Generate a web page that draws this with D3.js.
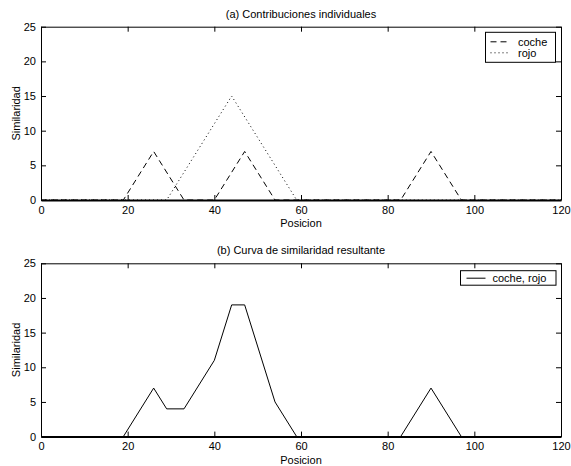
<!DOCTYPE html>
<html>
<head>
<meta charset="utf-8">
<script src="https://cdn.jsdelivr.net/npm/d3@7"></script>
<style>
  body { margin: 0; background: #fff; }
  svg text { font-family: "Liberation Sans", Arial, sans-serif; fill: #000; }
</style>
</head>
<body>
<div id="chart"></div>
<script>
// Data
const xTicks = [0, 20, 40, 60, 80, 100, 120];
const yTicks = [0, 5, 10, 15, 20, 25];

const posCoche = [0, 19, 26, 33, 40, 47, 54, 83, 90, 97, 120];
const simCoche = [0, 0, 7, 0, 0, 7, 0, 0, 7, 0, 0];

const posRojo = [0, 29, 44, 59, 120];
const simRojo = [0, 0, 15, 0, 0];

const posTotal = [0, 19, 26, 29, 33, 40, 44, 47, 54, 59, 83, 90, 97, 120];
const simTotal = [0, 0, 7, 4, 4, 11, 19, 19, 5, 0, 0, 7, 0, 0];

const W = 571, H = 466;
const left = 41, right = 561;
const panelH = 173.3;

const svg = d3.select("#chart")
  .append("svg")
    .attr("width", W)
    .attr("height", H);

const x = d3.scaleLinear().domain([0, 120]).range([0, right - left]);
const y = d3.scaleLinear().domain([0, 25]).range([panelH, 0]);

const line = d3.line()
  .x(d => x(d[0]))
  .y(d => y(d[1]));

function zip(a, b) { return a.map((v, i) => [v, b[i]]); }

// Draws one panel (axes box, ticks, labels, title)
function panel(top, title) {
  const g = svg.append("g").attr("transform", `translate(${left},${top})`);

  const bottomAxis = g.append("g")
    .attr("transform", `translate(0,${panelH})`)
    .call(d3.axisBottom(x).tickValues(xTicks).tickSize(-5).tickSizeOuter(0).tickPadding(6));
  g.append("g")
    .call(d3.axisTop(x).tickValues(xTicks).tickSize(-5).tickSizeOuter(0).tickFormat(""));
  g.append("g")
    .call(d3.axisLeft(y).tickValues(yTicks).tickSize(-5).tickSizeOuter(0).tickPadding(5));
  g.append("g")
    .attr("transform", `translate(${x(120)},0)`)
    .call(d3.axisRight(y).tickValues(yTicks).tickSize(-5).tickSizeOuter(0).tickFormat(""));

  g.selectAll(".domain, .tick line").attr("stroke", "#000").attr("stroke-width", 1);
  // the zero line of the data sits on the x axis, which makes it look heavier
  bottomAxis.select(".domain").attr("stroke-width", 2);
  g.selectAll(".tick text")
    .style("font-size", "11px")
    .style("font-family", "Liberation Sans, Arial, sans-serif");

  g.append("text")
    .attr("x", x(60))
    .attr("y", -9)
    .attr("text-anchor", "middle")
    .style("font-size", "11px")
    .text(title);

  g.append("text")
    .attr("x", x(60))
    .attr("y", panelH + 27.5)
    .attr("text-anchor", "middle")
    .style("font-size", "11px")
    .text("Posicion");

  g.append("text")
    .attr("transform", `translate(-21,${y(12.5)}) rotate(-90)`)
    .attr("text-anchor", "middle")
    .style("font-size", "11px")
    .text("Similaridad");

  return g;
}

// (a) individual contributions
const ga = panel(26.7, "(a) Contribuciones individuales");

ga.append("path")
  .datum(zip(posCoche, simCoche))
  .attr("fill", "none")
  .attr("stroke", "#000")
  .attr("stroke-width", 1)
  .attr("stroke-dasharray", "6,4")
  .attr("d", line);

ga.append("path")
  .datum(zip(posRojo, simRojo))
  .attr("fill", "none")
  .attr("stroke", "#000")
  .attr("stroke-width", 1)
  .attr("stroke-dasharray", "1,3")
  .attr("d", line);

// legend (a)
const la = ga.append("g").attr("transform", `translate(${485.5 - left},${32.3 - 26.7})`);
la.append("rect")
  .attr("width", 70).attr("height", 30)
  .attr("fill", "#fff").attr("stroke", "#000").attr("stroke-width", 1);
la.append("line")
  .attr("x1", 5).attr("x2", 25).attr("y1", 9.5).attr("y2", 9.5)
  .attr("stroke", "#000").attr("stroke-dasharray", "6,4");
la.append("line")
  .attr("x1", 5).attr("x2", 25).attr("y1", 20.5).attr("y2", 20.5)
  .attr("stroke", "#000").attr("stroke-dasharray", "1,3");
la.append("text").attr("x", 32.5).attr("y", 13.5).style("font-size", "11px").text("coche");
la.append("text").attr("x", 32.5).attr("y", 24.5).style("font-size", "11px").text("rojo");

// (b) resulting curve
const gb = panel(263.3, "(b) Curva de similaridad resultante");

gb.append("path")
  .datum(zip(posTotal, simTotal))
  .attr("fill", "none")
  .attr("stroke", "#000")
  .attr("stroke-width", 1)
  .attr("d", line);

// legend (b)
const lb = gb.append("g").attr("transform", `translate(${460.5 - left},${270.7 - 263.3})`);
lb.append("rect")
  .attr("width", 95.5).attr("height", 14.5)
  .attr("fill", "#fff").attr("stroke", "#000").attr("stroke-width", 1);
lb.append("line")
  .attr("x1", 6).attr("x2", 25).attr("y1", 7.5).attr("y2", 7.5)
  .attr("stroke", "#000");
lb.append("text").attr("x", 32).attr("y", 11.5).style("font-size", "11px").text("coche, rojo");
</script>
</body>
</html>
